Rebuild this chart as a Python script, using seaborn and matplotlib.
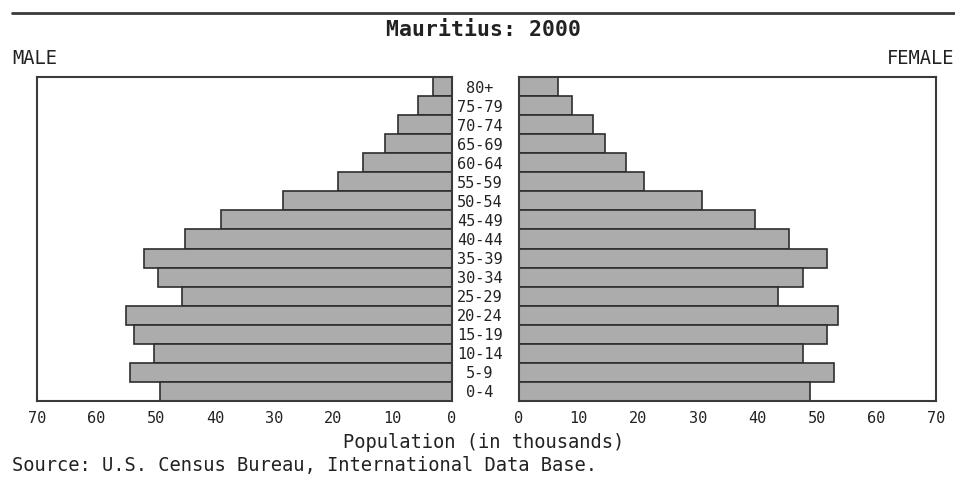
import pandas as pd
import matplotlib.pyplot as plt
import seaborn as sns

# --- DATA (population in thousands) ---
AGES = ['0-4', '5-9', '10-14', '15-19', '20-24', '25-29', '30-34', '35-39', '40-44',
        '45-49', '50-54', '55-59', '60-64', '65-69', '70-74', '75-79', '80+']
MALE = [49.2, 54.3, 50.2, 53.7, 54.9, 45.5, 49.6, 52.0, 45.1,
        38.9, 28.5, 19.2, 15.0, 11.3, 9.1, 5.7, 3.2]
FEMALE = [48.8, 52.9, 47.6, 51.7, 53.5, 43.4, 47.7, 51.7, 45.3,
          39.6, 30.7, 21.0, 18.0, 14.4, 12.4, 8.9, 6.5]
X_TICKS = [0, 10, 20, 30, 40, 50, 60, 70]

sns.set_style('white')
plt.rcParams['font.family'] = ['DejaVu Sans Mono', 'DejaVu Sans']

df = pd.DataFrame({'age': AGES, 'male': MALE, 'female': FEMALE})
order = AGES[::-1]  # 80+ on top

BAR = '#acacac'
EDGE = '#2e2e2e'
FRAME = '#3a3a3a'

fig = plt.figure(figsize=(9.55, 4.84), dpi=100)
ax_m = fig.add_axes([0.0387, 0.1715, 0.4346, 0.6694])
ax_f = fig.add_axes([0.5435, 0.1715, 0.4366, 0.6694])

sns.barplot(data=df, x='male', y='age', order=order, orient='h', color=BAR,
            width=1.0, edgecolor=EDGE, linewidth=1.2, saturation=1, ax=ax_m)
sns.barplot(data=df, x='female', y='age', order=order, orient='h', color=BAR,
            width=1.0, edgecolor=EDGE, linewidth=1.2, saturation=1, ax=ax_f)

for ax in (ax_m, ax_f):
    ax.set_xlabel('')
    ax.set_ylabel('')
    ax.set_xticks(X_TICKS)
    ax.set_xticklabels([str(t) for t in X_TICKS], fontsize=11, color='#222222')
    ax.tick_params(axis='x', direction='inout', length=7, width=1.2, color=FRAME, pad=4)
    ax.set_ylim(len(AGES) - 0.5, -0.5)
    for s in ax.spines.values():
        s.set_visible(True)
        s.set_color(FRAME)
        s.set_linewidth(1.5)

ax_m.set_xlim(70, 0)
ax_f.set_xlim(0, 70)

# age labels sit between the two panels
ax_m.yaxis.tick_right()
ax_m.tick_params(axis='y', length=0, pad=20)
for lbl in ax_m.get_yticklabels():
    lbl.set_ha('center')
    lbl.set_fontsize(11)
    lbl.set_color('#222222')
ax_f.set_yticks([])

# titles and notes
fig.add_artist(plt.Line2D([0.0126, 1.0], [0.973, 0.973], color=FRAME, lw=2))
fig.text(0.506, 0.938, 'Mauritius: 2000', ha='center', va='center',
         fontsize=15.5, fontweight='bold', color='#222222')
fig.text(0.0126, 0.880, 'MALE', ha='left', va='center', fontsize=13.5, color='#222222')
fig.text(0.999, 0.880, 'FEMALE', ha='right', va='center', fontsize=13.5, color='#222222')
fig.text(0.506, 0.085, 'Population (in thousands)', ha='center', va='center',
         fontsize=13.5, color='#222222')
fig.text(0.0126, 0.039, 'Source: U.S. Census Bureau, International Data Base.',
         ha='left', va='center', fontsize=13.5, color='#222222')

fig.savefig('out.png', dpi=100)
